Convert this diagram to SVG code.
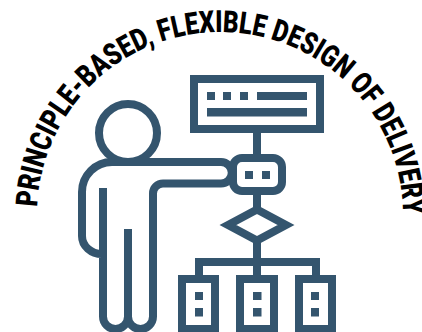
<svg xmlns="http://www.w3.org/2000/svg" width="422" height="332" viewBox="0 0 422 332">
  <style>
    .s{fill:none;stroke:#34556e;stroke-width:8}
    .f{fill:#34556e}
    .t{font-family:"Roboto","Liberation Sans",sans-serif;font-weight:900;font-size:30.500px;fill:#000}
  </style>
  <defs>
    <path id="arc" d="M37 215A183 183 0 0 1 403 215"/>
  </defs>
  <rect width="422" height="332" fill="#fff"/>
  <text class="t"><textPath href="#arc" startOffset="8" textLength="566" lengthAdjust="spacingAndGlyphs">PRINCIPLE-BASED, FLEXIBLE DESIGN OF DELIVERY</textPath></text>
  <g id="connectors" class="s">
    <path d="M257 133V158M257 191V210M257 240V275M199 275V262H316V275"/>
  </g>
  <g id="display">
    <rect class="s" x="194" y="79" width="126" height="50"/>
    <path class="f" d="M207 92h8v8h-8zM223 92h8v8h-8zM240 92h8v8h-8zM257 92h50v8h-50zM207 108h100v8.500h-100z"/>
  </g>
  <g id="person">
    <circle class="s" cx="128" cy="133" r="29"/>
    <path class="s" d="M102 254A20 18 0 0 1 82 236V192A30 30 0 0 1 112 162H221A10.500 10.500 0 0 1 221 183.500H163A10 10 0 0 0 153 193.500V316.500A12.500 12.500 0 0 1 128 316.500A12.500 12.500 0 0 1 103 316.500V188M128 316.500V229"/>
  </g>
  <g id="controller">
    <rect class="s" x="233" y="158" width="49" height="33" rx="9" fill="#fff"/>
    <path class="f" d="M245 171h8v8h-8zM262 171h8v8h-8z"/>
  </g>
  <g id="decision">
    <path class="s" d="M228 225L257 209.500L286 225L257 240.500Z"/>
  </g>
  <g id="box-left">
    <rect class="s" x="182" y="279" width="33" height="50"/>
    <path class="f" d="M195 292h8v8h-8zM195 308h8v8.500h-8z"/>
  </g>
  <g id="box-middle">
    <rect class="s" x="240" y="279" width="34" height="50"/>
    <path class="f" d="M253 292h8.500v8h-8.500zM253 308h8.500v8.500h-8.500z"/>
  </g>
  <g id="box-right">
    <rect class="s" x="299" y="279" width="33" height="50"/>
    <path class="f" d="M311 292h8v8h-8zM311 308h8v8.500h-8z"/>
  </g>
</svg>
